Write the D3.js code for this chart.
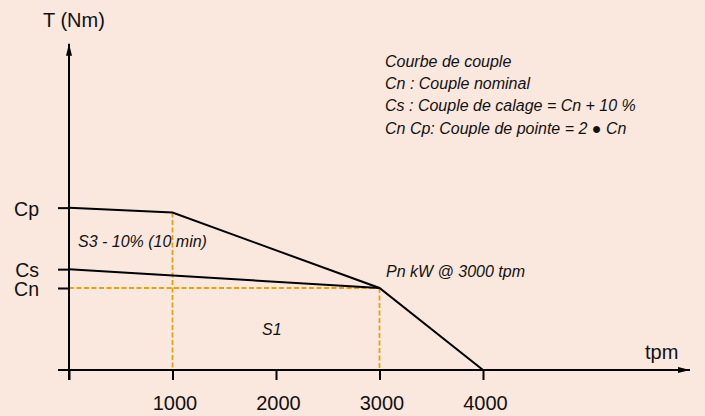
<!DOCTYPE html>
<html>
<head>
<meta charset="utf-8">
<script src="https://cdn.jsdelivr.net/npm/d3@7/dist/d3.min.js"></script>
<style>
  html, body { margin: 0; padding: 0; background: #fae7dd; }
  svg { display: block; font-family: "Liberation Sans", Arial, sans-serif; }
</style>
</head>
<body>
<svg id="chart" width="705" height="416"></svg>
<script>
// ---- data ----
const speedTicks = [0, 1000, 2000, 3000, 4000];
const speedTickLabels = ["", "1000", "2000", "3000", "4000"];
const torqueTickNames = ["Cp", "Cs", "Cn"];
const torqueTickValues = [198, 123, 100];
// peak torque curve (S3)
const peakSpeeds = [0, 1000, 3000, 4000];
const peakTorque = [198, 192, 100, 0];
// stall torque line
const stallSpeeds = [0, 3000];
const stallTorque = [123, 100];
// nominal operating point
const nominalSpeed = 3000;
const nominalTorque = 100;
const breakSpeed = 1000;
const breakTorque = 192;
const legendLines = [
  "Courbe de couple",
  "Cn : Couple nominal",
  "Cs : Couple de calage = Cn + 10 %",
  "Cn Cp: Couple de pointe = 2 \u25CF Cn"
];

// ---- layout ----
const svg = d3.select("#chart");
const x = d3.scaleLinear().domain([0, 6000]).range([69, 690]);
const y = d3.scaleLinear().domain([0, 100]).range([370, 288]);
const orange = "#e3a212";

// arrow markers
const defs = svg.append("defs");
defs.append("marker").attr("id", "arrow")
  .attr("viewBox", "0 0 12 6").attr("refX", 12).attr("refY", 3)
  .attr("markerWidth", 12).attr("markerHeight", 6)
  .attr("markerUnits", "userSpaceOnUse").attr("orient", "auto")
  .append("path").attr("d", "M0,0 L12,3 L0,6 Z").attr("fill", "#000");

// dashed guides
const guides = [
  [[x(0), y(nominalTorque)], [x(nominalSpeed), y(nominalTorque)]],
  [[x(nominalSpeed), y(nominalTorque)], [x(nominalSpeed), y(0)]],
  [[x(breakSpeed), y(breakTorque)], [x(breakSpeed), y(0)]]
];
svg.append("g").selectAll("path").data(guides).join("path")
  .attr("d", d => d3.line()(d))
  .attr("fill", "none").attr("stroke", orange)
  .attr("stroke-width", 1.8).attr("stroke-dasharray", "5,2.5");

// axes with ticks
const xAxis = d3.axisBottom(x).tickValues(speedTicks)
  .tickFormat((d, i) => speedTickLabels[i]).tickSize(10).tickPadding(16);
const gx = svg.append("g").attr("transform", `translate(0,${y(0)})`).call(xAxis);
gx.select(".domain").remove();
gx.selectAll(".tick line").attr("stroke", "#000").attr("stroke-width", 2);
gx.selectAll(".tick text").attr("font-size", 20).attr("fill", "#111").attr("dx", 2)
  .attr("font-family", "Liberation Sans, Arial, sans-serif");

const yAxis = d3.axisLeft(y).tickValues(torqueTickValues)
  .tickFormat((d, i) => torqueTickNames[i]).tickSize(11).tickPadding(19);
const gy = svg.append("g").attr("transform", `translate(${x(0)},0)`).call(yAxis);
gy.select(".domain").remove();
gy.selectAll(".tick line").attr("stroke", "#000").attr("stroke-width", 2);
gy.selectAll(".tick text").attr("font-size", 19.5).attr("fill", "#111")
  .attr("dy", "0.4em")
  .attr("font-family", "Liberation Sans, Arial, sans-serif");

// axis lines with arrows
svg.append("line").attr("x1", x(0) - 11).attr("x2", x(6000))
  .attr("y1", y(0)).attr("y2", y(0))
  .attr("stroke", "#000").attr("stroke-width", 2).attr("marker-end", "url(#arrow)");
svg.append("line").attr("x1", x(0)).attr("x2", x(0))
  .attr("y1", y(0) + 10).attr("y2", y(398))
  .attr("stroke", "#000").attr("stroke-width", 2).attr("marker-end", "url(#arrow)");

// curves
const line = d3.line().x(d => x(d[0])).y(d => y(d[1]));
svg.append("path").datum(peakSpeeds.map((s, i) => [s, peakTorque[i]]))
  .attr("d", line).attr("fill", "none").attr("stroke", "#000").attr("stroke-width", 2);
svg.append("path").datum(stallSpeeds.map((s, i) => [s, stallTorque[i]]))
  .attr("d", line).attr("fill", "none").attr("stroke", "#000").attr("stroke-width", 2);

// axis titles
svg.append("text").attr("x", 43).attr("y", 27).attr("font-size", 20).attr("fill", "#111").text("T (Nm)");
svg.append("text").attr("x", 645).attr("y", 359).attr("font-size", 20).attr("fill", "#111").text("tpm");

// annotations
const ital = (tx, ty, s) => svg.append("text").attr("x", tx).attr("y", ty)
  .attr("font-size", 16).attr("font-style", "italic").attr("fill", "#111").text(s);
ital(78, 247, "S3 - 10% (10 min)");
ital(262, 335, "S1");
ital(386, 277, "Pn kW @ 3000 tpm");
legendLines.forEach((s, i) => ital(385, 67 + i * 22.2, s));
</script>
</body>
</html>
